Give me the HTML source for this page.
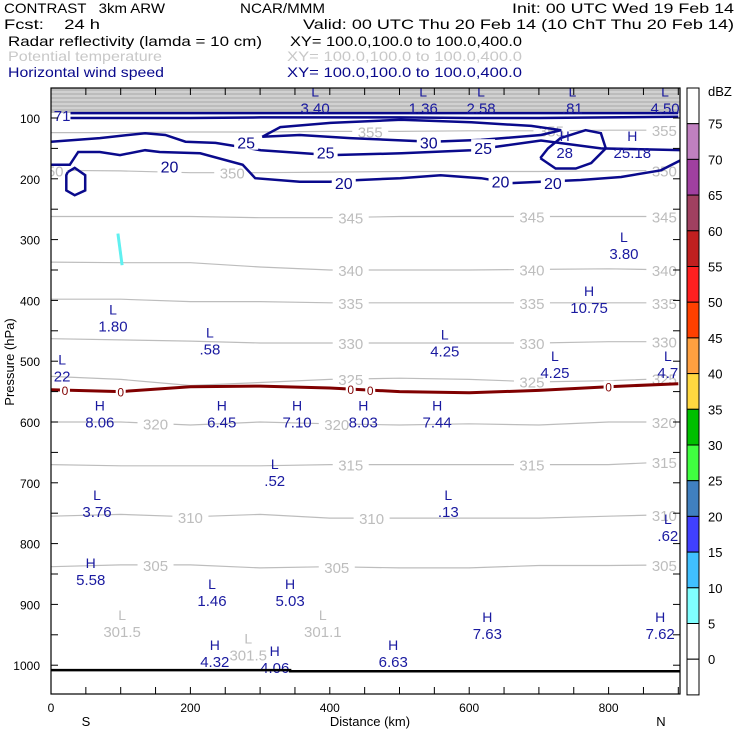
<!DOCTYPE html>
<html><head><meta charset="utf-8"><style>
body{margin:0;background:#fff;}
svg{display:block;font-family:"Liberation Sans",sans-serif;}
text{white-space:pre;}
</style></head><body>
<svg id="chart" width="740" height="740" viewBox="0 0 740 740" xmlns="http://www.w3.org/2000/svg">
<g font-size="14">
<text x="4" y="13" textLength="161" lengthAdjust="spacingAndGlyphs">CONTRAST   3km ARW</text>
<text x="240" y="13" textLength="85" lengthAdjust="spacingAndGlyphs">NCAR/MMM</text>
<text x="512" y="13" textLength="222" lengthAdjust="spacingAndGlyphs">Init: 00 UTC Wed 19 Feb 14</text>
<text x="4" y="29" textLength="96" lengthAdjust="spacingAndGlyphs">Fcst:    24 h</text>
<text x="303" y="29" textLength="431" lengthAdjust="spacingAndGlyphs">Valid: 00 UTC Thu 20 Feb 14 (10 ChT Thu 20 Feb 14)</text>
<text x="8" y="46" textLength="254" lengthAdjust="spacingAndGlyphs">Radar reflectivity (lamda = 10 cm)</text>
<text x="290" y="46" textLength="232" lengthAdjust="spacingAndGlyphs">XY= 100.0,100.0 to 100.0,400.0</text>
<text x="8" y="61" fill="#c8c8c8" textLength="154" lengthAdjust="spacingAndGlyphs">Potential temperature</text>
<text x="287" y="61" fill="#c8c8c8" textLength="235" lengthAdjust="spacingAndGlyphs">XY= 100.0,100.0 to 100.0,400.0</text>
<text x="8" y="77" fill="#0a0a8c" textLength="156" lengthAdjust="spacingAndGlyphs">Horizontal wind speed</text>
<text x="287" y="77" fill="#0a0a8c" textLength="235" lengthAdjust="spacingAndGlyphs">XY= 100.0,100.0 to 100.0,400.0</text>
</g>
<g id="plot"></g>
<g id="axes"></g>
<g id="cbar"></g>
</svg>
<script>
const kmTicks=[0,200,400,600,800];
const pTicks=[100,200,300,400,500,600,700,800,900,1000];
const kmGrid=[0,100,200,300,400,500,600,700,800,900];
const thetaLevels=[355,350,345,340,335,330,325,320,315,310,305];
const th355=[124,124,123,123,122,122,121,121,120,120];
const th350=[186,187,190,190,189,188,188,188,187,186];
const th345=[262,262,262,264,264,262,262,262,262,262];
const th340=[337,338,338,345,350,350,350,349,348,350];
const th335=[398,398,402,402,404,404,404,404,404,404];
const th330=[463,465,467,470,470,470,470,470,468,468];
const th325=[525,530,540,535,530,528,530,534,532,528];
const th320=[600,600,605,600,603,605,603,605,600,600];
const th315=[670,672,672,672,670,670,670,670,670,665];
const th310=[755,752,756,752,758,758,758,758,755,752];
const th305=[838,835,835,840,838,840,840,836,836,835];
const thetaLabelKm=[458,0,430,430,430,430,430,150,430,200,150];
const dbz0=[547,550,542,541,544,550,552,548,542,537];
const wTop1=[92,92,92,92,92,92,92,92,92,92];
const wTop2=[100,100,100,99,99,99,100,100,99,98];
const w25=[[0,139],[70,133],[135,125],[164,128],[193,139],[236,141],[301,153],[402,161],[503,158],[603,153],[653,145],[703,137],[789,150],[904,153]];
const w20=[[0,177],[27,177],[39,156],[70,156],[99,161],[135,153],[156,156],[214,158],[275,177],[293,199],[357,205],[400,205],[443,202],[501,199],[559,194],[617,199],[660,207],[703,205],[760,202],[818,197],[875,186],[904,169]];
const w30=[[303,131],[329,115],[401,108],[502,103],[603,107],[689,113],[732,120],[703,128],[617,136],[546,139],[429,133],[357,128],[303,131]];
const wLoopA=[[24,189],[34,182],[49,194],[49,219],[34,227],[22,219],[22,194],[24,189]];
const wLoopB=[[702,166],[713,150],[731,133],[767,120],[789,125],[796,150],[775,174],[753,183],[724,183],[702,166]];
const windLabels=[[280,139,"25"],[394,155,"25"],[620,148,"25"],[542,139,"30"],[170,178,"20"],[420,205,"20"],[645,203,"20"],[720,205,"20"]];
const extrema=[[379,93,"L","3.40"],[534,93,"L","1.36"],[617,93,"L","2.58"],[748,93,"L",".81"],[881,93,"L","4.50"],[16,105,"","71"],
[737,166,"H","28"],[834,166,"H","25.18"],[822,332,"L","3.80"],[772,421,"H","10.75"],[89,451,"L","1.80"],[228,489,"L",".58"],[565,492,"L","4.25"],[723,528,"L","4.25"],[885,528,"L","4.7"],[16,533,"L","22"],
[70,609,"H","8.06"],[245,609,"H","6.45"],[353,609,"H","7.10"],[448,609,"H","8.03"],[554,609,"H","7.44"],
[321,705,"L",".52"],[66,756,"L","3.76"],[570,756,"L",".13"],[885,796,"L",".62"],
[57,868,"H","5.58"],[231,903,"L","1.46"],[343,903,"H","5.03"],[626,957,"H","7.63"],[874,957,"H","7.62"],[235,1003,"H","4.32"],[321,1013,"H","4.06"],[491,1003,"H","6.63"]];
const thetaExtrema=[[102,954,"L","301.5"],[390,954,"L","301.1"],[283,992,"L","301.5"]];
const cbarLevels=[75,70,65,60,55,50,45,40,35,30,25,20,15,10,5,0];
const cbarColors=["#ffffff","#c080c0","#a040a0","#a04060","#c02020","#ff2020","#ff4000","#ffa040","#ffd840","#00c000","#40ff40","#4080c0","#4040ff","#40c0ff","#80ffff","#ffffff","#ffffff"];

const X0=51,X1=680,Y0=88,Y1=694;
const xs=km=>X0+km*0.697;
const ys=p=>118+(p-100)*0.608;
const NS="http://www.w3.org/2000/svg";
const plot=document.getElementById('plot'),axes=document.getElementById('axes'),cbar=document.getElementById('cbar');
function mk(tag,attrs,parent){const e=document.createElementNS(NS,tag);for(const k in attrs)e.setAttribute(k,attrs[k]);parent.appendChild(e);return e;}
function ptsStr(arr){return arr.map(d=>xs(d[0]).toFixed(1)+','+ys(d[1]).toFixed(1)).join(' ');}
const clip=mk('clipPath',{id:'pc'},plot);mk('rect',{x:X0,y:Y0,width:X1-X0,height:Y1-Y0},clip);
const inner=mk('g',{'clip-path':'url(#pc)'},plot);
const strat=mk('rect',{x:X0,y:Y0,width:X1-X0,height:25,fill:'#bcbcbc'},inner);


[92,96,100,104,108].forEach(y=>{const l=mk('line',{x1:X0,x2:X1,y1:y,y2:y,stroke:'#e6e6e6','stroke-width':1},inner);

});
const thetaArrs=[th355,th350,th345,th340,th335,th330,th325,th320,th315,th310,th305];
thetaArrs.forEach((arr,i)=>{
 const pts=arr.map((p,j)=>[kmGrid[j],p]);
 const l=mk('polyline',{points:ptsStr(pts),fill:'none',stroke:'#bdbdbd','stroke-width':1.2},inner);
 
 
 [thetaLabelKm[i],thetaLabelKm[i]+260,880].forEach(k=>{
  const j=Math.min(8,Math.floor(k/100)),f=(k-kmGrid[j])/100;const p=arr[j]+(arr[j+1]-arr[j])*f;
  mk('rect',{x:xs(k)-18,y:ys(p)-7,width:36,height:14,fill:'#fff'},inner);
  const t=mk('text',{x:xs(k),y:ys(p)+6,'text-anchor':'middle','font-size':15,fill:'#bdbdbd'},inner);t.textContent=thetaLevels[i];
  
  
 });
});
const dz=mk('polyline',{points:ptsStr(dbz0.map((p,j)=>[kmGrid[j],p])),fill:'none',stroke:'#800000','stroke-width':3},inner);


[[20,0],[100,0],[430,0],[458,0],[800,0]].forEach(d=>{const j=Math.min(8,Math.floor(d[0]/100));const p=dbz0[j]+(dbz0[j+1]-dbz0[j])*(d[0]-kmGrid[j])/100;
 mk('rect',{x:xs(d[0])-5,y:ys(p)-6,width:10,height:12,fill:'#fff'},inner);
 const t=mk('text',{x:xs(d[0]),y:ys(p)+5,'text-anchor':'middle','font-size':12,fill:'#800000'},inner);t.textContent='0';
 
 });
const cy=mk('line',{x1:xs(96),y1:ys(290),x2:xs(102),y2:ys(342),stroke:'#60f0f0','stroke-width':3},inner);


[wTop1,wTop2].forEach(a=>{const l=mk('polyline',{points:ptsStr(a.map((p,j)=>[kmGrid[j]+(j==0?28:0),p])),fill:'none',stroke:'#0a0a8c','stroke-width':2.5},inner);

});
[[w25,'wind-contour-25'],[w20,'wind-contour-20'],[w30,'wind-contour-30'],[wLoopA,'wind-contour-loop'],[wLoopB,'wind-contour-28-loop']].forEach(([a,n])=>{
 const l=mk('polyline',{points:ptsStr(a),fill:'none',stroke:'#0a0a8c','stroke-width':2.5},inner);
 
 });
windLabels.forEach(d=>{mk('rect',{x:xs(d[0])-12,y:ys(d[1])-8,width:24,height:16,fill:'#fff'},inner);
 const t=mk('text',{x:xs(d[0]),y:ys(d[1])+7,'text-anchor':'middle','font-size':16,fill:'#0a0a8c'},inner);t.textContent=d[2];
 
 });
function lab(d,col,name){
 const x=xs(d[0]),y=ys(d[1]);
 if(d[2]){const a=mk('text',{x:x,y:y-17,'text-anchor':'middle','font-size':14,fill:col},inner);a.textContent=d[2];
 
 }
 const b=mk('text',{x:x,y:y,'text-anchor':'middle','font-size':15,fill:col},inner);b.textContent=d[3];
 
 }
extrema.forEach(d=>lab(d,'#1a1aa0','wind-extremum'));
thetaExtrema.forEach(d=>lab(d,'#bdbdbd','theta-extremum'));
const sl=mk('polyline',{points:ptsStr([[0,1008],[343,1008],[343,1010],[904,1010]]),fill:'none',stroke:'#000','stroke-width':2.5},inner);


const fr=mk('rect',{x:X0,y:Y0,width:X1-X0,height:Y1-Y0,fill:'none',stroke:'#000','stroke-width':1.2},axes);


for(let k=0;k<=900;k+=50){[[Y0,Y0+7],[Y1,Y1-7]].forEach(s=>mk('line',{x1:xs(k),x2:xs(k),y1:s[0],y2:s[1],stroke:'#000'},axes));}
for(let p=100;p<=1000;p+=50){[[X0,X0+7],[X1,X1-7]].forEach(s=>mk('line',{x1:s[0],x2:s[1],y1:ys(p),y2:ys(p),stroke:'#000'},axes));}
kmTicks.forEach(k=>{const t=mk('text',{x:xs(k),y:712,'text-anchor':'middle','font-size':12},axes);t.textContent=k;
 
 });
pTicks.forEach(p=>{const t=mk('text',{x:40,y:ys(p)+5,'text-anchor':'end','font-size':12},axes);t.textContent=p;
 
 });
[[86,726,'S','start-label'],[370,726,'Distance (km)','x-axis-title'],[661,726,'N','end-label']].forEach(d=>{
 const t=mk('text',{x:d[0],y:d[1],'text-anchor':'middle','font-size':13},axes);t.textContent=d[2];
 
 });
const yt=mk('text',{x:0,y:0,'text-anchor':'middle','font-size':13,transform:'translate(14,362) rotate(-90)'},axes);yt.textContent='Pressure (hPa)';


const cbTop=88,cbH=35.7;
cbarColors.forEach((c,i)=>{const r=mk('rect',{x:687,y:cbTop+i*cbH,width:12,height:cbH,fill:c,stroke:'#000','stroke-width':1},cbar);
 
 });
cbarLevels.forEach((v,i)=>{const t=mk('text',{x:708,y:cbTop+(i+1)*cbH+5,'font-size':13},cbar);t.textContent=v;
 
 });
const u=mk('text',{x:708,y:96,'font-size':13},cbar);u.textContent='dBZ';


</script>
</body></html>
